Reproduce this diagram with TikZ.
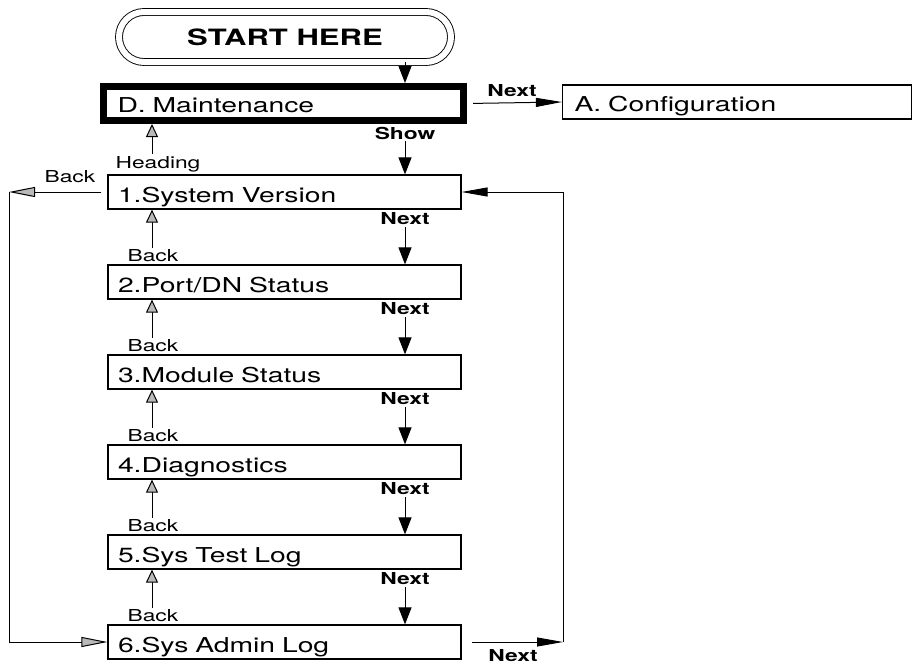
\documentclass[tikz,border=0pt]{standalone}
\usepackage{fontspec}
\setmainfont{TeX Gyre Heros}[FakeStretch=1.38]
\usetikzlibrary{arrows.meta,positioning,calc,shapes.misc}
\newcommand{\boxfont}{\fontsize{20.5}{24}\selectfont}
\newcommand{\tagfont}{\fontsize{16.5}{19}\selectfont}
\tikzset{menu/.style={draw,line width=1.2pt,minimum width=353pt,minimum height=34pt,
    text width=333pt,text height=20pt,text depth=0pt,inner xsep=10pt,align=left,font=\boxfont},
  tag/.style={inner sep=2pt,font=\tagfont},
  keytag/.style={inner sep=2pt,font=\tagfont\bfseries},
  nextflow/.style={-{Triangle[length=17pt,width=13pt]},line width=1pt},
  nextlong/.style={-{Triangle[length=26pt,width=9pt]},line width=1pt},
  backflow/.style={-{Triangle[length=13pt,width=12pt,fill=gray!55]},line width=1pt},
  backlong/.style={-{Triangle[length=26pt,width=10pt,fill=gray!55]},line width=1pt}}

\begin{document}
\begin{tikzpicture}[x=1pt,y=-1pt]
\useasboundingbox (0,0) rectangle (914,664);
% columns of the down (Next) and up (Back) links
\coordinate (nx) at (405,0);
\coordinate (bk) at (152,0);
\coordinate (lx) at (9,0);
\coordinate (rx) at (563,0);
\node[rounded rectangle,draw,double,double distance=6pt,line width=0.9pt,
  minimum width=332pt,minimum height=50pt,inner sep=0pt,
  font=\fontsize{22.5}{26}\selectfont\bfseries] (start) at (285,37) {START HERE};
\node[menu,line width=7pt,minimum width=360pt,text width=332pt,inner xsep=14pt,text height=17pt] (maint) at (283.5,103.5) {D. Maintenance};
\node[menu,minimum width=349pt,text width=325pt,inner xsep=12pt,text height=18pt] (cfg) at (737,102) {A. Configuration};
\node[menu] (s1) at (284.5,192) {1.System Version};
\node[menu] (s2) at (284.5,282) {2.Port/DN Status};
\node[menu] (s3) at (284.5,372) {3.Module Status};
\node[menu] (s4) at (284.5,462) {4.Diagnostics};
\node[menu] (s5) at (284.5,552) {5.Sys Test Log};
\node[menu] (s6) at (284.5,642) {6.Sys Admin Log};
% labels on the links
\node[keytag] (n0) at (512,91) {Next};
\node[keytag] (show) at (405,133) {Show};
\node[tag] (hd) at (158,164) {Heading};
\node[tag] (b0) at (70,177) {Back};
\node[keytag] (n1) at (405,219) {Next};
\node[keytag] (n2) at (405,309) {Next};
\node[keytag] (n3) at (405,399) {Next};
\node[keytag] (n4) at (405,489) {Next};
\node[keytag] (n5) at (405,579) {Next};
\node[keytag] (n6) at (513,656) {Next};
\node[tag] (b2) at (153,256) {Back};
\node[tag] (b3) at (153,346) {Back};
\node[tag] (b4) at (153,436) {Back};
\node[tag] (b5) at (153,526) {Back};
\node[tag] (b6) at (153,616) {Back};
% main path
\draw[nextflow] (start.south -| nx) -- (maint.north -| nx);
\draw[nextlong,shorten <=6pt] (maint.east) -- (cfg.west);
\draw[backflow] (hd.north -| bk) -- (maint.south -| bk);
\draw[nextflow] (show) -- (s1.north -| nx);
\draw[nextflow] (n1) -- (s2.north -| nx);
\draw[nextflow] (n2) -- (s3.north -| nx);
\draw[nextflow] (n3) -- (s4.north -| nx);
\draw[nextflow] (n4) -- (s5.north -| nx);
\draw[nextflow] (n5) -- (s6.north -| nx);
\draw[backflow] (b2.north -| bk) -- (s1.south -| bk);
\draw[backflow] (b3.north -| bk) -- (s2.south -| bk);
\draw[backflow] (b4.north -| bk) -- (s3.south -| bk);
\draw[backflow] (b5.north -| bk) -- (s4.south -| bk);
\draw[backflow] (b6.north -| bk) -- (s5.south -| bk);
% wrap-around loops
\draw[backlong,shorten <=6pt] (s1.west) -- (s1.west -| lx);
\draw[backlong] (s1.west -| lx) |- (s6.west);
\draw[nextlong,shorten <=10pt] (s6.east) -- (s6.east -| rx);
\draw[nextlong] (s6.east -| rx) |- (s1.east);
\end{tikzpicture}
\end{document}
